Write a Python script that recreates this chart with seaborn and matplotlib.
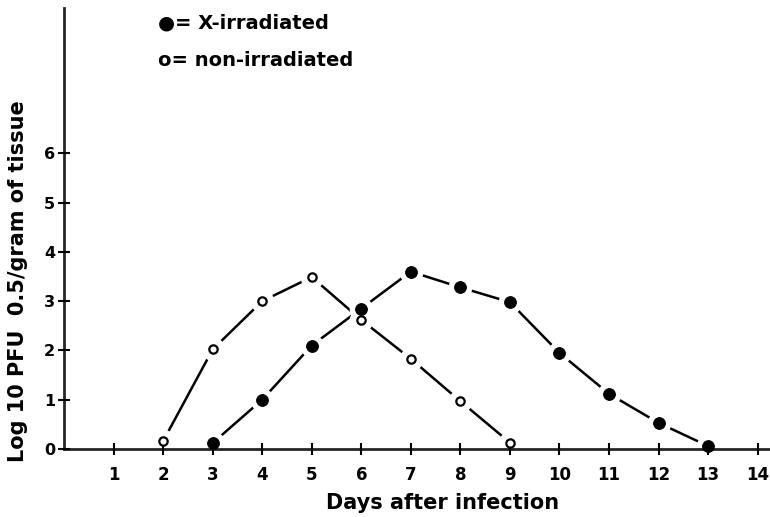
import matplotlib
matplotlib.use("Agg")
import matplotlib.pyplot as plt
import seaborn as sns
import pandas as pd

# Days after infection and log10 PFU 0.5/gram of tissue
days_irr = [3, 4, 5, 6, 7, 8, 9, 10, 11, 12, 13]
pfu_irr = [0.12, 1.0, 2.1, 2.85, 3.6, 3.28, 2.98, 1.95, 1.12, 0.53, 0.06]

days_non = [2, 3, 4, 5, 6, 7, 8, 9]
pfu_non = [0.16, 2.02, 3.0, 3.49, 2.62, 1.83, 0.97, 0.13]

x_ticks = list(range(1, 15))
y_ticks = list(range(0, 7))

irr = pd.DataFrame({"day": days_irr, "pfu": pfu_irr})
non = pd.DataFrame({"day": days_non, "pfu": pfu_non})

sns.set_style("ticks")
plt.rcParams['font.family'] = ['DejaVu Sans']
plt.rcParams['font.weight'] = 'bold'
plt.rcParams['text.color'] = 'black'
plt.rcParams['xtick.color'] = 'black'
plt.rcParams['ytick.color'] = 'black'

fig = plt.figure(figsize=(7.7, 5.17), dpi=100)
ax = fig.add_axes([64 / 770, 68 / 517, 1 - 64 / 770, 1 - 76 / 517])
ax.set_axisbelow(False)

for df in (irr, non):
    ax.plot(df["day"], df["pfu"], color="black", lw=1.8, zorder=1)
    # white halo so the line stops short of each point
    ax.plot(df["day"], df["pfu"], "o", ms=17, color="white", mec="none", zorder=2, clip_on=False)

sns.scatterplot(data=irr, x="day", y="pfu", color="black", s=72, edgecolor="black",
                ax=ax, zorder=3, clip_on=False)
sns.scatterplot(data=non, x="day", y="pfu", color="white", s=36, edgecolor="black",
                linewidth=1.6, ax=ax, zorder=3, clip_on=False)

ax.set_xlim(0, 14.25)
ax.set_ylim(0, 8.95)
ax.set_xticks(x_ticks)
ax.set_yticks(y_ticks)
ax.set_xticklabels([str(t) for t in x_ticks], fontsize=12, fontweight='bold')
ax.set_yticklabels([str(t) for t in y_ticks], fontsize=11.5, fontweight='bold')
ax.tick_params(direction='inout', length=9, width=1.5, colors='black')
ax.tick_params(axis='x', pad=8)
ax.tick_params(axis='y', pad=2)
for s in ("top", "right"):
    ax.spines[s].set_visible(False)
for s in ("left", "bottom"):
    ax.spines[s].set_linewidth(2)
    ax.spines[s].set_zorder(2.5)
ax.set_xlabel("")
ax.set_ylabel("")

fig.text(443 / 770, 1 - 503 / 517, "Days after infection", ha="center", va="center",
         fontsize=15, fontweight="bold")
fig.text(18 / 770, 1 - 281 / 517, "Log 10 PFU  0.5/gram of tissue", ha="center", va="center",
         rotation=90, fontsize=15, fontweight="bold")

fig.text(158 / 770, 1 - 23 / 517, "\u25cf= X-irradiated", ha="left", va="center",
         fontsize=14, fontweight="bold")
fig.text(158 / 770, 1 - 60 / 517, "o= non-irradiated", ha="left", va="center",
         fontsize=14, fontweight="bold")

fig.savefig("out.png", dpi=100)
